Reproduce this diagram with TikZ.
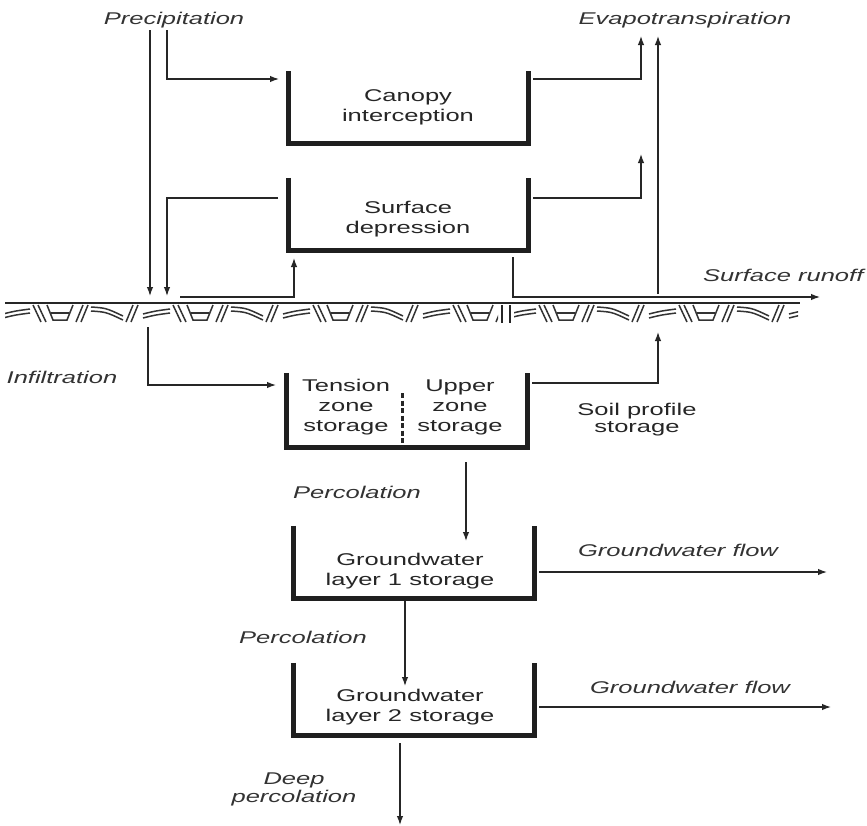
\documentclass[tikz,border=0pt]{standalone}
\usepackage{fontspec}
\setmainfont{Liberation Sans}[FakeStretch=1.5]
\usetikzlibrary{arrows.meta}
\begin{document}
\begin{tikzpicture}[x=1pt,y=-1pt,
  wall/.style={line width=4.8pt, draw=black!88},
  conn/.style={line width=1.3pt, draw=black!85},
  flow/.style={conn, -{Latex[length=9pt,width=6.5pt]}},
  hatch/.style={line width=1.5pt, draw=black!80},
  boxshape/.style={draw=none, inner sep=0pt, minimum width=239pt, minimum height=72pt},
  store/.style={inner sep=0pt, align=center, font=\fontsize{17}{20}\selectfont, text=black!85},
  lbl/.style={inner sep=0pt, align=center, font=\fontsize{17}{20}\selectfont\itshape, text=black!80},
  motif/.pic={
    \draw[hatch] (3,314) .. controls (15,311) .. (30,309) (3,318) .. controls (15,315) .. (30,313);
    \draw[hatch] (33,305) -- (41,322) (38,305) -- (46,322);
    \draw[hatch] (47,305) -- (53,320) -- (67,320) -- (73,305);
    \draw[hatch] (51,313) -- (69,313);
    \draw[hatch] (76,322) -- (83,305) (81,322) -- (88,305);
    \draw[hatch] (91,307) .. controls (106,308) .. (123,316) (91,311) .. controls (106,312) .. (123,320);
    \draw[hatch] (126,322) -- (133,305) (131,322) -- (138,305);
  },
]
\useasboundingbox (0,0) rectangle (867,825);
\fill[white] (0,0) rectangle (867,825);

% ---------- storage boxes ----------
\node[boxshape] (canopy) at (408.5,107.5) {};
\node[boxshape] (depr)   at (408.5,214) {};
\node[boxshape, minimum width=240pt, minimum height=74pt] (soil) at (407,410) {};
\node[boxshape, minimum width=240pt] (gw1) at (414,562) {};
\node[boxshape, minimum width=240pt] (gw2) at (414,699) {};

\foreach \b in {canopy,depr,soil,gw1,gw2}
  \draw[wall] (\b.north west) -- (\b.south west) -- (\b.south east) -- (\b.north east);

\coordinate (divT) at (402,393);
\coordinate (divB) at (402,447);
\draw[line width=3pt, draw=black!85, dash pattern=on 5pt off 2.5pt] (divT) -- (divB);

% ---------- box texts ----------
\node[store] (tCanopy) at (408,107) {Canopy\\interception};
\node[store] (tDepr)   at (408,219) {Surface\\depression};
\node[store] (tTension) at (346,407) {Tension\\zone\\storage};
\node[store] (tUpper)   at (460,407) {Upper\\zone\\storage};
\node[store] (tGw1) at (410,571) {Groundwater\\layer 1  storage};
\node[store] (tGw2) at (410,707) {Groundwater\\layer 2 storage};
\node[store, font=\fontsize{17}{17}\selectfont] (tSoil) at (637,420) {Soil profile\\storage};

% ---------- labels ----------
\node[lbl] (lPrec) at (174,20) {Precipitation};
\node[lbl] (lEvap) at (685,20) {Evapotranspiration};
\node[lbl, anchor=west] (lRun) at (703,275) {Surface runoff};
\node[lbl] (lInf) at (62,377) {Infiltration};
\node[lbl] (lPerc1) at (357,492) {Percolation};
\node[lbl] (lPerc2) at (303,637) {Percolation};
\node[lbl] (lGwf1) at (678,550) {Groundwater flow};
\node[lbl] (lGwf2) at (690,687) {Groundwater flow};
\node[lbl, font=\fontsize{17}{18}\selectfont\itshape] (lDeep) at (294,789) {Deep\\percolation};

% ---------- connector points ----------
\coordinate (a0) at (150,30);  \coordinate (a1) at (150,296);
\coordinate (b0) at (167,30);  \coordinate (b1) at (279,79);
\coordinate (c0) at (278,198); \coordinate (c1) at (167,296);
\coordinate (d0) at (180,297); \coordinate (d1) at (294,258);
\coordinate (e0) at (533,79);  \coordinate (e1) at (641,36);
\coordinate (f0) at (658,294); \coordinate (f1) at (658,36);
\coordinate (g0) at (533,198); \coordinate (g1) at (641,154);
\coordinate (h0) at (513,257); \coordinate (h1) at (820,297);
\coordinate (i0) at (148,327); \coordinate (i1) at (276,385);
\coordinate (j0) at (532,383); \coordinate (j1) at (658,332);
\coordinate (k0) at (466,462); \coordinate (k1) at (466,541);
\coordinate (l0) at (539,572); \coordinate (l1) at (827,572);
\coordinate (m0) at (405,601); \coordinate (m1) at (405,686);
\coordinate (n0) at (539,707); \coordinate (n1) at (831,707);
\coordinate (o0) at (400,743); \coordinate (o1) at (400,825);

\draw[flow] (a0) -- (a1);
\draw[flow] (b0) |- (b1);
\draw[flow] (c0) -| (c1);
\draw[flow] (d0) -| (d1);
\draw[flow] (e0) -| (e1);
\draw[flow] (f0) -- (f1);
\draw[flow] (g0) -| (g1);
\draw[flow] (h0) |- (h1);
\draw[flow] (i0) |- (i1);
\draw[flow] (j0) -| (j1);
\draw[flow] (k0) -- (k1);
\draw[flow] (l0) -- (l1);
\draw[flow] (m0) -- (m1);
\draw[flow] (n0) -- (n1);
\draw[flow] (o0) -- (o1);

% ---------- ground surface ----------
\coordinate (gL) at (5,303);
\coordinate (gR) at (800,303);
\draw[conn, line width=1.6pt] (gL) -- (gR);
\begin{scope}
  \clip (5,304.5) rectangle (498,326);
  \foreach \x in {0,140,280,420} { \pic at (\x,0) {motif}; }
\end{scope}
\begin{scope}
  \clip (514,304.5) rectangle (798,326);
  \foreach \x in {506,646,786} { \pic at (\x,0) {motif}; }
\end{scope}
\coordinate (br1T) at (502,305); \coordinate (br1B) at (502,323);
\coordinate (br2T) at (510,305); \coordinate (br2B) at (510,323);
\draw[line width=2.5pt, draw=black!85] (br1T) -- (br1B) (br2T) -- (br2B);
\end{tikzpicture}
\end{document}
